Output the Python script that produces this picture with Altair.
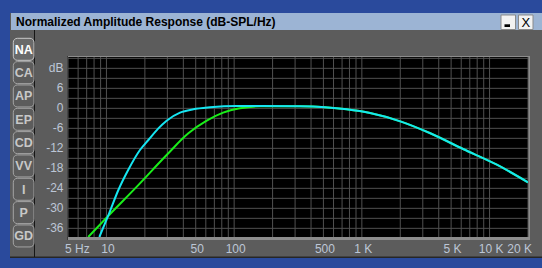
import altair as alt
import pandas as pd

# ---------------- data ----------------
cyan_freq = [8.8, 10.5, 12.4, 14.8, 18.3, 21.3, 25.5, 29.6, 37.7, 47.9, 64.7, 105,
             160, 330, 515, 760, 1160, 2000, 3400, 6200, 11400, 20000]
cyan_db = [-38.6, -31.5, -24.5, -18.5, -12.5, -9.5, -6.0, -3.7, -1.3, -0.3, 0.3, 0.7,
           0.7, 0.6, 0.3, -0.3, -1.4, -3.9, -7.4, -12.2, -16.9, -22.2]

green_freq = [7.2, 10.5, 17.3, 29.6, 43.8, 61, 82, 111, 160, 330, 515, 760, 1160,
              2000, 3400, 6200, 11400, 20000]
green_db = [-38.6, -32.0, -23.5, -14.0, -7.5, -3.7, -1.3, 0.0, 0.6, 0.6, 0.3, -0.3,
            -1.4, -3.9, -7.4, -12.2, -16.9, -22.2]

x_grid = [5, 6, 7, 8, 9, 10, 20, 30, 40, 50, 60, 70, 80, 90, 100, 200, 300, 400, 500,
          600, 700, 800, 900, 1000, 2000, 3000, 4000, 5000, 6000, 7000, 8000, 9000,
          10000, 20000]
y_grid = [15, 12, 9, 6, 3, 0, -3, -6, -9, -12, -15, -18, -21, -24, -27, -30, -33, -36]

x_tick_vals = [5, 10, 50, 100, 500, 1000, 5000, 10000, 20000]
x_tick_text = ["5 Hz", "10", "50", "100", "500", "1 K", "5 K", "10 K", "20 K"]
y_tick_vals = [12, 6, 0, -6, -12, -18, -24, -30, -36]
y_tick_text = ["dB", "6", "0", "-6", "-12", "-18", "-24", "-30", "-36"]

tabs = ["NA", "CA", "AP", "EP", "CD", "VV", "I", "P", "GD"]
title_text = "Normalized Amplitude Response (dB-SPL/Hz)"

# ---------------- styling ----------------
W, H = 460, 180
FONT = "Liberation Sans"
LABEL_COLOR = "#bcc6d6"
GRID_COLOR = "#505050"
PANEL = "#5c5c5c"

xs = alt.Scale(type="log", domain=[5, 20000], nice=False)
ys = alt.Scale(domain=[-38.6, 15.4], nice=False, zero=False)

one = alt.Data(values=[{"a": 1}])


def box(x, x2, y, y2, **kw):
    return alt.Chart(one).mark_rect(**kw).encode(
        x=alt.value(x), x2=alt.value(x2), y=alt.value(y), y2=alt.value(y2))


def label(txt, x, y, **kw):
    return alt.Chart(one).mark_text(text=txt, **kw).encode(
        x=alt.value(x), y=alt.value(y))


layers = []
# window panel (absolute px minus plot origin 68,57)
layers.append(box(-58, 478, -44, 201, color=PANEL))
layers.append(box(476, 479, -44, 201, color="#262626"))
layers.append(box(-58, 479, 199.5, 201, color="#262626"))
# title bar
layers.append(box(-57, 476, -44, -27, color="#9cb4d4"))
layers.append(label(title_text, -52, -35.5, align="left", baseline="middle",
                    font=FONT, fontSize=12, fontWeight="bold", color="#000000"))
# buttons
layers.append(box(433, 447.5, -42, -27.5, color="#f2f2f2", stroke="#8a8a8a", strokeWidth=1))
layers.append(box(450.5, 465, -42, -27.5, color="#f2f2f2", stroke="#8a8a8a", strokeWidth=1))
layers.append(box(436.5, 442, -32.7, -30, color="#000000"))
layers.append(label("X", 457.8, -34.5, align="center", baseline="middle",
                    font=FONT, fontSize=13, color="#000000"))
# tab separator
layers.append(box(-34, -33, -27, 200, color="#161616"))
# tabs
for i, t in enumerate(tabs):
    y0 = -18.7 + i * 23.33
    sel = (i == 0)
    layers.append(box(-54.7, -34, y0, y0 + 22,
                      color="#6a6a6a" if sel else PANEL,
                      stroke="#c8c8c8" if sel else "#a4a4a4", strokeWidth=1,
                      cornerRadius=4))
    layers.append(label(t, -44.3, y0 + 11.5, align="center", baseline="middle",
                        font=FONT, fontSize=12.5, fontWeight="bold",
                        color="#ffffff" if sel else "#c8c8c8"))

# plot border and black plot area
layers.append(box(-1, 462, -1, 183, color="#8c8c8c"))
layers.append(box(-1, 0, -1, 183, color="#3a3a3a"))
layers.append(box(0, W, 0, H, color="#000000"))

# grid lines
vgrid = alt.Chart(pd.DataFrame({"f": x_grid})).mark_rule(
    color=GRID_COLOR, strokeWidth=1).encode(
    x=alt.X("f:Q", scale=xs, axis=None), y=alt.value(0), y2=alt.value(H))
hgrid = alt.Chart(pd.DataFrame({"v": y_grid})).mark_rule(
    color=GRID_COLOR, strokeWidth=1).encode(
    y=alt.Y("v:Q", scale=ys, axis=None), x=alt.value(0), x2=alt.value(W))
layers += [vgrid, hgrid]

# tick labels as text placed through the scales
xlab = pd.DataFrame({"v": x_tick_vals, "t": x_tick_text})
n = len(x_tick_vals)
xl_base = alt.Chart(xlab).encode(
    x=alt.X("v:Q", scale=xs, axis=None), y=alt.value(H + 12), text="t:N")
txt_style = dict(font=FONT, fontSize=12, color=LABEL_COLOR, baseline="middle")
layers.append(xl_base.transform_filter(f"datum.v == {x_tick_vals[0]}").mark_text(
    align="left", dx=-3, **txt_style))
layers.append(xl_base.transform_filter(
    f"datum.v > {x_tick_vals[0]} && datum.v < {x_tick_vals[-1]}").mark_text(
    align="center", dx=1.5, **txt_style))
layers.append(xl_base.transform_filter(f"datum.v == {x_tick_vals[-1]}").mark_text(
    align="right", dx=4, **txt_style))

ylab = pd.DataFrame({"v": y_tick_vals, "t": y_tick_text})
layers.append(alt.Chart(ylab).mark_text(align="right", **txt_style).encode(
    y=alt.Y("v:Q", scale=ys, axis=None), x=alt.value(-4.5), text="t:N"))

green = alt.Chart(pd.DataFrame({"f": green_freq, "db": green_db})).mark_line(
    color="#1aee1a", strokeWidth=2, interpolate="monotone", clip=True).encode(
    x=alt.X("f:Q", scale=xs, axis=None),
    y=alt.Y("db:Q", scale=ys, axis=None),
    order=alt.Order("f:Q"))
cyan = alt.Chart(pd.DataFrame({"f": cyan_freq, "db": cyan_db})).mark_line(
    color="#16e6f2", strokeWidth=2, interpolate="monotone", clip=True).encode(
    x=alt.X("f:Q", scale=xs, axis=None),
    y=alt.Y("db:Q", scale=ys, axis=None),
    order=alt.Order("f:Q"))
layers += [green, cyan]

chart = alt.layer(*layers).properties(
    width=W, height=H,
    padding={"left": 68, "top": 57, "right": 14, "bottom": 31},
    autosize="none",
    background="#2a4a9c",
).configure_view(stroke=None)

chart.save("out.html", embed_options={"renderer": "svg", "actions": False})
